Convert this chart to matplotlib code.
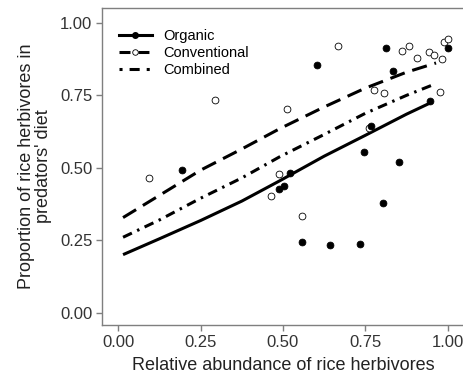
import matplotlib
matplotlib.use("Agg")
import matplotlib.pyplot as plt
from matplotlib.lines import Line2D

plt.rcParams['font.family'] = ['Liberation Sans', 'DejaVu Sans']

# Organic (filled points)
org_x = [0.194, 0.487, 0.502, 0.521, 0.557, 0.602, 0.643, 0.735, 0.745, 0.766,
         0.804, 0.813, 0.834, 0.853, 0.946, 1.0]
org_y = [0.493, 0.428, 0.437, 0.482, 0.244, 0.854, 0.234, 0.236, 0.556, 0.645,
         0.379, 0.915, 0.833, 0.52, 0.732, 0.913]

# Conventional (open points)
conv_x = [0.094, 0.294, 0.465, 0.487, 0.513, 0.559, 0.668, 0.762, 0.777, 0.806,
          0.863, 0.883, 0.907, 0.945, 0.958, 0.976, 0.983, 0.989, 1.0]
conv_y = [0.463, 0.734, 0.402, 0.479, 0.703, 0.333, 0.919, 0.636, 0.769, 0.76,
          0.903, 0.922, 0.878, 0.899, 0.888, 0.761, 0.874, 0.933, 0.946]

# Fitted curves
fit_org_x = [0.014, 0.125, 0.25, 0.375, 0.49, 0.625, 0.75, 0.875, 0.955]
fit_org_y = [0.20, 0.255, 0.318, 0.385, 0.455, 0.54, 0.612, 0.685, 0.728]
fit_conv_x = [0.014, 0.125, 0.25, 0.375, 0.49, 0.625, 0.75, 0.875, 0.965]
fit_conv_y = [0.328, 0.405, 0.492, 0.565, 0.635, 0.71, 0.775, 0.83, 0.862]
fit_comb_x = [0.014, 0.125, 0.25, 0.375, 0.49, 0.625, 0.75, 0.875, 0.95]
fit_comb_y = [0.26, 0.32, 0.395, 0.465, 0.538, 0.615, 0.688, 0.75, 0.784]

ticks = [0.0, 0.25, 0.5, 0.75, 1.0]
tick_labels = ["0.00", "0.25", "0.50", "0.75", "1.00"]

fig = plt.figure(figsize=(4.64, 3.79), dpi=100)
ax = fig.add_axes([0.2198, 0.1425, 0.7802, 0.8365])

ax.plot(fit_org_x, fit_org_y, color='black', lw=2.2, ls='-', solid_capstyle='butt')
ax.plot(fit_conv_x, fit_conv_y, color='black', lw=2.2, ls=(0, (5, 2.6)), dash_capstyle='butt')
ax.plot(fit_comb_x, fit_comb_y, color='black', lw=2.2, ls=(0, (3.2, 1.9, 0.8, 1.9)), dash_capstyle='butt')

ax.scatter(conv_x, conv_y, s=24, facecolors='white', edgecolors='black', linewidths=0.6, zorder=3)
ax.scatter(org_x, org_y, s=24, facecolors='black', edgecolors='black', linewidths=0.6, zorder=4)

ax.set_xlim(-0.05, 1.05)
ax.set_ylim(-0.043, 1.052)
ax.set_xticks(ticks)
ax.set_xticklabels(tick_labels)
ax.set_yticks(ticks)
ax.set_yticklabels(tick_labels)

gray = '#7f7f7f'
for side in ['left', 'bottom', 'top']:
    ax.spines[side].set_color(gray)
    ax.spines[side].set_linewidth(1.0)
ax.spines['right'].set_visible(False)
ax.tick_params(axis='both', direction='out', length=4, width=1.0, color=gray,
               labelsize=12, labelcolor='#333333', pad=3)

ax.set_xlabel("Relative abundance of rice herbivores", fontsize=13, color='#222222', labelpad=5)
ax.set_ylabel("Proportion of rice herbivores in\npredators' diet", fontsize=13, color='#222222',
              labelpad=6, linespacing=1.0)

handles = [
    Line2D([0], [0], color='black', lw=2.2, ls='-', marker='o', markersize=4,
           markerfacecolor='black', markeredgecolor='black', dash_capstyle='butt'),
    Line2D([0], [0], color='black', lw=2.2, ls=(0, (3.6, 2.6)), marker='o', markersize=4,
           markerfacecolor='white', markeredgecolor='black', markeredgewidth=0.6,
           dash_capstyle='butt'),
    Line2D([0], [0], color='black', lw=2.2, ls=(0, (1, 2.3, 3.3, 2.3, 1, 5)),
           dash_capstyle='butt'),
]
ax.legend(handles, ["Organic", "Conventional", "Combined"], loc='upper left',
          bbox_to_anchor=(0.02, 0.965), frameon=False, fontsize=10.5, handlelength=2.2,
          handletextpad=0.8, labelspacing=0.2, borderaxespad=0.3)

fig.savefig("out.png", dpi=100)
